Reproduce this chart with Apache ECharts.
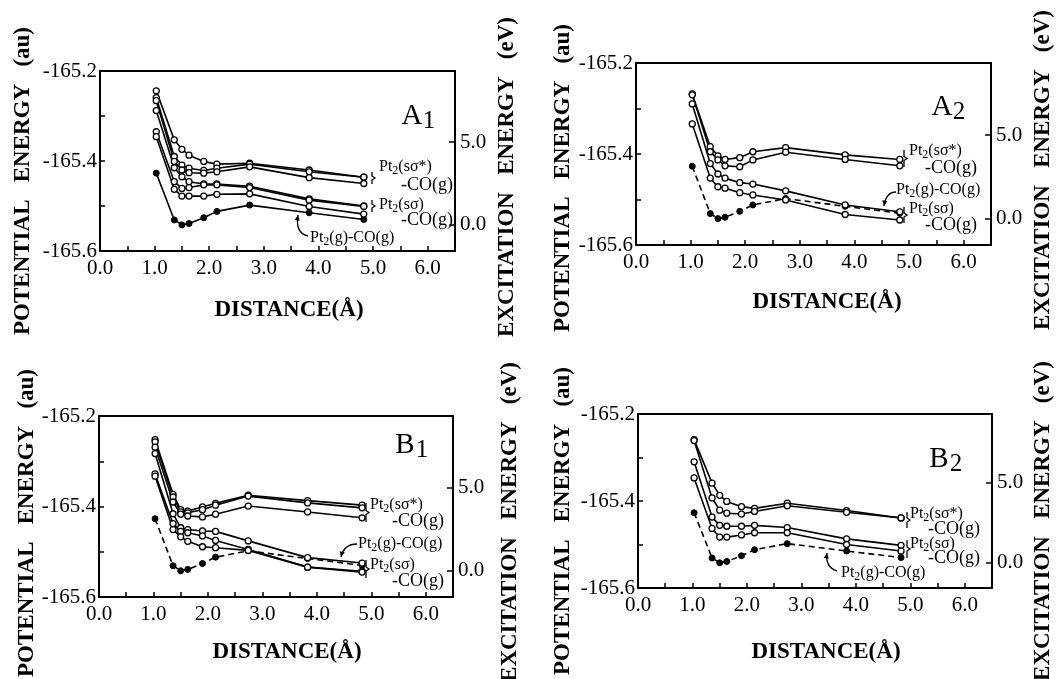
<!DOCTYPE html>
<html>
<head>
<meta charset="utf-8">
<script src="https://cdn.jsdelivr.net/npm/echarts@6/dist/echarts.min.js"></script>
<style>
    html, body { margin: 0; background: #fff; }
    #chart { width: 1062px; height: 679px; }
</style>
</head>
<body>
<div id="chart"></div>
<script>
// Pt-CO distance (Å), same grid for every curve
var distance = [1.03, 1.36, 1.50, 1.63, 1.90, 2.14, 2.74, 3.83, 4.83];

// Pt2(g)-CO(g) ground state, potential energy (au)
var groundState = [-165.427, -165.531, -165.542, -165.539, -165.526, -165.512, -165.498, -165.515, -165.530];

// A1
var a1Star1 = [-165.244, -165.353, -165.374, -165.387, -165.401, -165.407, -165.405, -165.420, -165.436];
var a1Star2 = [-165.259, -165.390, -165.409, -165.416, -165.421, -165.416, -165.407, -165.424, -165.436];
var a1Star3 = [-165.266, -165.401, -165.420, -165.426, -165.427, -165.424, -165.413, -165.437, -165.450];
var a1Sigma1 = [-165.288, -165.415, -165.435, -165.446, -165.451, -165.451, -165.456, -165.484, -165.500];
var a1Sigma2 = [-165.335, -165.446, -165.461, -165.459, -165.453, -165.453, -165.459, -165.487, -165.501];
var a1Sigma3 = [-165.346, -165.463, -165.478, -165.478, -165.478, -165.474, -165.473, -165.501, -165.518];

// A2
var a2Star1 = [-165.268, -165.384, -165.404, -165.412, -165.408, -165.395, -165.386, -165.402, -165.412];
var a2Star2 = [-165.270, -165.395, -165.413, -165.426, -165.428, -165.413, -165.396, -165.412, -165.426];
var a2Sigma1 = [-165.290, -165.421, -165.444, -165.453, -165.463, -165.466, -165.481, -165.512, -165.527];
var a2Sigma2 = [-165.334, -165.453, -165.472, -165.475, -165.485, -165.490, -165.501, -165.533, -165.545];

// B1
var b1Star1 = [-165.252, -165.373, -165.407, -165.410, -165.401, -165.393, -165.375, -165.387, -165.397];
var b1Star2 = [-165.257, -165.379, -165.412, -165.414, -165.407, -165.397, -165.377, -165.392, -165.403];
var b1Star3 = [-165.269, -165.390, -165.417, -165.421, -165.423, -165.417, -165.399, -165.412, -165.425];
var b1Sigma1 = [-165.283, -165.416, -165.447, -165.451, -165.454, -165.455, -165.476, -165.513, -165.525];
var b1Sigma2 = [-165.328, -165.438, -165.455, -165.458, -165.465, -165.475, -165.495, -165.534, -165.543];
var b1Sigma3 = [-165.333, -165.451, -165.467, -165.477, -165.489, -165.491, -165.497, -165.534, -165.545];

// B2
var b2Star1 = [-165.259, -165.359, -165.387, -165.401, -165.413, -165.417, -165.405, -165.422, -165.439];
var b2Star2 = [-165.261, -165.393, -165.421, -165.428, -165.430, -165.424, -165.411, -165.426, -165.439];
var b2Sigma1 = [-165.310, -165.437, -165.456, -165.458, -165.458, -165.456, -165.461, -165.487, -165.502];
var b2Sigma2 = [-165.347, -165.463, -165.483, -165.483, -165.478, -165.473, -165.473, -165.500, -165.515];

var xTicks = [0, 6.5];
var auRange = [-165.6, -165.2];
var evTicks = [0, 5];
var AU_TO_EV = 27.2114;
var EV_ZERO = -165.542; // minimum of the ground state

var FONT = '"Liberation Serif", "Times New Roman", serif';

var panels = [
    { box: [100, 71, 355, 180], curves: [a1Star1, a1Star2, a1Star3, a1Sigma1, a1Sigma2, a1Sigma3], dashed: false },
    { box: [636, 63, 355, 182], curves: [a2Star1, a2Star2, a2Sigma1, a2Sigma2], dashed: true },
    { box: [99, 416, 354, 181], curves: [b1Star1, b1Star2, b1Star3, b1Sigma1, b1Sigma2, b1Sigma3], dashed: true },
    { box: [638, 414, 354, 174], curves: [b2Star1, b2Star2, b2Sigma1, b2Sigma2], dashed: true },
];

function pairs(values) {
    return values.map(function (v, i) { return [distance[i], v]; });
}

var axisLine = { show: true, onZero: false, lineStyle: { color: '#000', width: 2 } };
var tick = { show: true, inside: true, length: 5, lineStyle: { color: '#000', width: 1.5 } };
var tickFont = { color: '#000', fontFamily: FONT, fontSize: 21 };

var grids = [], xAxes = [], yAxes = [], series = [];

panels.forEach(function (p, i) {
    grids.push({
        left: p.box[0], top: p.box[1], width: p.box[2], height: p.box[3],
        show: true, borderColor: '#000', borderWidth: 2, backgroundColor: 'transparent',
    });
    xAxes.push({
        gridIndex: i, type: 'value', min: xTicks[0], max: xTicks[1], interval: 0.5,
        axisLine: axisLine, axisTick: tick, splitLine: { show: false },
        axisLabel: Object.assign({}, tickFont, {
            margin: 7,
            formatter: function (v) { return Math.abs(v - Math.round(v)) < 1e-6 ? v.toFixed(1) : ''; },
        }),
    });
    yAxes.push({
        gridIndex: i, type: 'value', position: 'left', min: auRange[0], max: auRange[1], interval: 0.1,
        axisLine: axisLine, axisTick: tick, splitLine: { show: false },
        axisLabel: Object.assign({}, tickFont, {
            margin: 3,
            formatter: function (v) { return Math.round(v * 10) % 2 === 0 ? v.toFixed(1) : ''; },
        }),
    });
    yAxes.push({
        gridIndex: i, type: 'value', position: 'right',
        min: (auRange[0] - EV_ZERO) * AU_TO_EV, max: (auRange[1] - EV_ZERO) * AU_TO_EV,
        axisLine: axisLine, splitLine: { show: false },
        axisTick: Object.assign({}, tick, { length: 6, customValues: evTicks }),
        axisLabel: Object.assign({}, tickFont, {
            margin: 5, customValues: evTicks,
            formatter: function (v) { return v.toFixed(1); },
        }),
    });
    p.curves.forEach(function (vals) {
        series.push({
            type: 'line', xAxisIndex: i, yAxisIndex: 2 * i, data: pairs(vals),
            symbol: 'circle', symbolSize: 6, showAllSymbol: true, silent: true,
            lineStyle: { color: '#000', width: 1.6 },
            itemStyle: { color: '#fff', borderColor: '#000', borderWidth: 1.3 },
            z: 3,
        });
    });
    series.push({
        type: 'line', xAxisIndex: i, yAxisIndex: 2 * i, data: pairs(groundState),
        symbol: 'circle', symbolSize: 6, showAllSymbol: true, silent: true,
        lineStyle: { color: '#000', width: 1.6, type: p.dashed ? [6, 4] : 'solid' },
        itemStyle: { color: '#000', borderColor: '#000', borderWidth: 1 },
        z: 2,
    });
});

// ---- decorations: axis titles, panel names, curve labels ----
var graphics = [];

function text(x, y, str, font, rotation, align) {
    graphics.push({
        type: 'text', x: x, y: y, rotation: rotation || 0, silent: true,
        style: { text: str, font: font, fill: '#000', textAlign: align || 'center', textVerticalAlign: 'middle' },
    });
}

var rich = {
    p: { fontFamily: FONT, fontSize: 16, lineHeight: 20, verticalAlign: 'middle' },
    s: { fontFamily: FONT, fontSize: 12, lineHeight: 12, verticalAlign: 'bottom' },
    c: { fontFamily: FONT, fontSize: 18, lineHeight: 20, verticalAlign: 'middle' },
};

function richText(x, y, str) {
    graphics.push({
        type: 'text', x: x, y: y, silent: true,
        style: { text: str, rich: rich, fill: '#000', textAlign: 'left', textVerticalAlign: 'middle' },
    });
}

function bracket(x, y1, y2) {
    var m = (y1 + y2) / 2;
    graphics.push({
        type: 'polyline', silent: true,
        shape: { points: [[x, y1], [x, m - 2], [x + 3, m], [x, m + 2], [x, y2]] },
        style: { stroke: '#000', lineWidth: 1.3, fill: null },
    });
}

function arrow(x1, y1, cx, cy, x2, y2) {
    graphics.push({
        type: 'bezierCurve', silent: true,
        shape: { x1: x1, y1: y1, cpx1: cx, cpy1: cy, x2: x2, y2: y2 },
        style: { stroke: '#000', lineWidth: 1.3, fill: null },
    });
    var a = Math.atan2(y2 - cy, x2 - cx), L = 6, w = 0.45;
    graphics.push({
        type: 'polygon', silent: true,
        shape: { points: [[x2, y2],
            [x2 - L * Math.cos(a - w), y2 - L * Math.sin(a - w)],
            [x2 - L * Math.cos(a + w), y2 - L * Math.sin(a + w)]] },
        style: { fill: '#000' },
    });
}

// panel name: big letter plus a lowered, nearly full-size index
function panelName(x, y, letter, index) {
    text(x, y, letter, '29px ' + FONT);
    text(x + 17, y + 5, index, '25px ' + FONT);
}

var titleFont = 'bold 23px ' + FONT;
var leftTitle = 'POTENTIAL   ENERGY   (au)';
var rightTitle = 'EXCITATION   ENERGY   (eV)';
var starLabel = '{p|Pt}{s|2}{p|(sσ*)}';
var sigmaLabel = '{p|Pt}{s|2}{p|(sσ)}';
var coLabel = '{c|-CO(g)}';
var groundLabel = '{p|Pt}{s|2}{p|(g)-CO(g)}';

// A1
text(23, 181, leftTitle, titleFont, Math.PI / 2);
text(507, 177, rightTitle, titleFont, Math.PI / 2);
text(289, 310, 'DISTANCE(Å)', titleFont);
panelName(412, 116, 'A', '1');
bracket(372, 172, 184); richText(379, 167, starLabel); richText(401, 185, coLabel);
bracket(372, 200, 212); richText(379, 205, sigmaLabel); richText(401, 220, coLabel);
richText(310, 238, groundLabel); arrow(308, 236, 295, 233, 298, 215);

// A2
text(563, 178, leftTitle, titleFont, Math.PI / 2);
text(1043, 170, rightTitle, titleFont, Math.PI / 2);
text(827, 302, 'DISTANCE(Å)', titleFont);
panelName(942, 107, 'A', '2');
bracket(904, 150, 167); richText(909, 151, starLabel); richText(925, 168, coLabel);
richText(896, 190, groundLabel); arrow(896, 192, 886, 192, 884, 206);
bracket(904, 207, 223); richText(909, 209, sigmaLabel); richText(925, 225, coLabel);

// B1
text(27, 523, leftTitle, titleFont, Math.PI / 2);
text(510, 522, rightTitle, titleFont, Math.PI / 2);
text(287, 652, 'DISTANCE(Å)', titleFont);
panelName(405, 445, 'B', '1');
bracket(366, 503, 522); richText(370, 505, starLabel); richText(392, 521, coLabel);
richText(358, 544, groundLabel); arrow(357, 544, 344, 544, 341, 557);
bracket(366, 560, 578); richText(370, 565, sigmaLabel); richText(392, 581, coLabel);

// B2
text(563, 521, leftTitle, titleFont, Math.PI / 2);
text(1043, 521, rightTitle, titleFont, Math.PI / 2);
text(826, 652, 'DISTANCE(Å)', titleFont);
panelName(939, 459, 'B', '2');
bracket(907, 512, 528); richText(910, 514, starLabel); richText(928, 529, coLabel);
bracket(907, 540, 558); richText(910, 544, sigmaLabel); richText(928, 558, coLabel);
richText(841, 573, groundLabel); arrow(837, 571, 825, 567, 827, 553);

var chart = echarts.init(document.getElementById('chart'));
chart.setOption({
    animation: false,
    backgroundColor: '#fff',
    grid: grids,
    xAxis: xAxes,
    yAxis: yAxes,
    series: series,
    graphic: graphics,
});
</script>
</body>
</html>
